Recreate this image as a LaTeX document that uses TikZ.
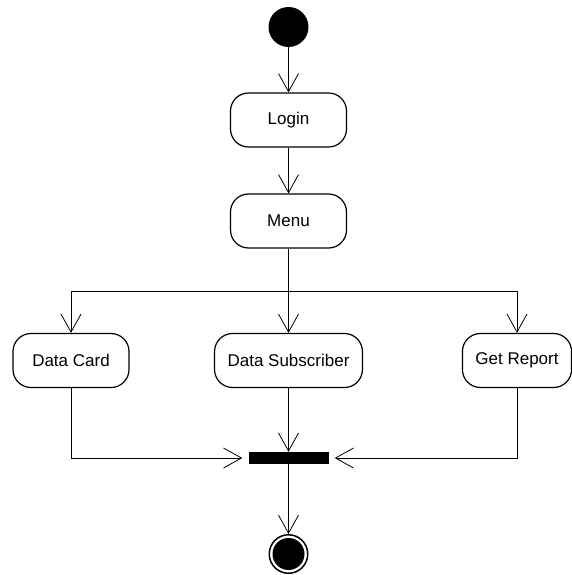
\documentclass[tikz,border=0pt]{standalone}
\usepackage{fontspec}
\setmainfont{Liberation Sans}
\usetikzlibrary{arrows.meta}
\tikzset{
  act/.style={draw, line width=1.2pt, rounded corners=18pt, minimum width=116pt, minimum height=54pt, inner xsep=13pt, font=\fontsize{17}{20}\selectfont},
  flow/.style={line width=0.8pt, -{Straight Barb[length=18pt,width=20pt]}},
}
\begin{document}
\begin{tikzpicture}[x=1pt,y=-1pt]
\useasboundingbox (0,0) rectangle (572,575);
% activities
\node[circle, fill, inner sep=0pt, minimum size=40pt] (start) at (288.5,27) {};
\node[act] (login) at (288.5,120) {Login};
\node[act] (menu) at (288.5,221) {Menu};
\coordinate (fork) at (288.5,291);
\node[act] (card) at (71,360.5) {Data Card};
\node[act] (subscriber) at (288.5,360.5) {Data Subscriber};
\node[act, minimum width=0pt] (report) at (517,360.5) {Get Report};
\node[fill, inner sep=0pt, minimum width=80pt, minimum height=12pt] (join) at (288.5,458) {};
\node[circle, draw, line width=1.5pt, inner sep=0pt, minimum size=38.5pt,
  path picture={\fill (path picture bounding box.center) circle (16pt);}] (final) at (288.5,554) {};
% transitions
\draw[flow] (start) -- (login);
\draw[flow] (login) -- (menu);
\draw[line width=0.8pt] (menu) -- (fork);
\draw[flow] (fork) -| (card);
\draw[flow] (fork) -- (subscriber);
\draw[flow] (fork) -| (report);
\draw[flow, shorten >=6pt] (card) |- (join);
\draw[flow] (subscriber) -- (join);
\draw[flow, shorten >=6pt] (report) |- (join);
\draw[flow] (join) -- (final);
\end{tikzpicture}
\end{document}
